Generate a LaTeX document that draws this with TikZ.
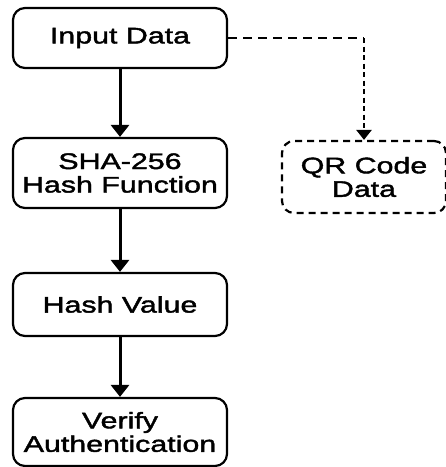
\documentclass[tikz,border=0pt]{standalone}
\usepackage{fontspec}
\setmainfont{Liberation Sans}[FakeStretch=1.35,FakeBold=1.8]
\usetikzlibrary{arrows.meta}
\begin{document}
\begin{tikzpicture}[x=1pt,y=-1pt,
  box/.style={draw, line width=2.2pt, rounded corners=12pt, align=center,
    font=\fontsize{22.5}{23.5}\selectfont, inner sep=0pt, minimum width=214pt},
  dbox/.style={box, dash pattern=on 7pt off 5pt, minimum width=164pt},
  arr/.style={line width=3pt, -{Triangle[width=18pt,length=12pt]}},
  dh/.style={line width=2.4pt, dash pattern=on 9pt off 6pt},
  dv/.style={line width=2.4pt, dash pattern=on 5pt off 3.5pt, -{Triangle[width=15pt,length=10pt]}}]
\useasboundingbox (0,0) rectangle (446,467);
\node[box, minimum height=60pt] (inp) at (120,38) {Input Data};
\node[box, minimum height=70pt] (sha) at (120,173) {SHA-256\\Hash Function};
\node[box, minimum height=63pt] (hv) at (120,304.5) {Hash Value};
\node[box, minimum height=68pt] (ver) at (120,432) {Verify\\Authentication};
\node[dbox, minimum height=72pt] (qr) at (364,177) {QR Code\\Data};
\draw[arr] (inp) -- (sha);
\draw[arr] (sha) -- (hv);
\draw[arr] (hv) -- (ver);
\coordinate (bend) at (inp.east -| qr.north);
\draw[dh] (inp.east) -- (bend);
\draw[dv] (bend) -- (qr.north);
\end{tikzpicture}
\end{document}
